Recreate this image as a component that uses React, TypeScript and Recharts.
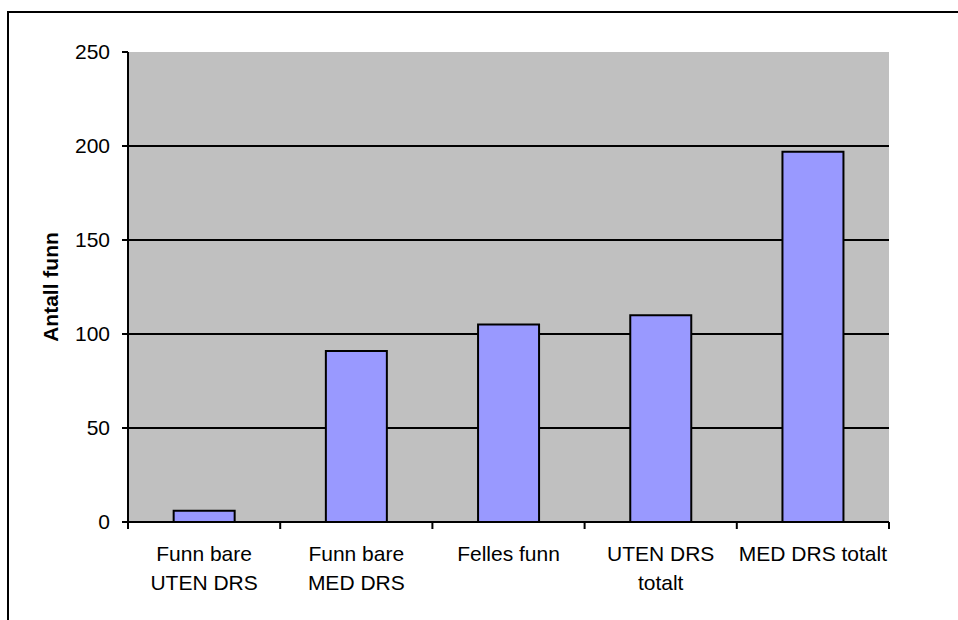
import React from "react";
import {
  BarChart,
  Bar,
  XAxis,
  YAxis,
  CartesianGrid,
} from "recharts";

const categories = [
  "Funn bare\nUTEN DRS",
  "Funn bare\nMED DRS",
  "Felles funn",
  "UTEN DRS\ntotalt",
  "MED DRS totalt",
];
const values = [6, 91, 105, 110, 197];
const yTicks = [0, 50, 100, 150, 200, 250];
const gridValues = [50, 100, 150, 200];

const data = categories.map((name, i) => ({ name, value: values[i] }));

const W = 958;
const H = 620;
const MARGIN = { top: 52, right: 69, bottom: 28, left: 0 };
const Y_AXIS_W = 128;
const FONT = "'Liberation Sans', Arial, sans-serif";

// category label, plus the tick marks that sit on the band edges
function CategoryTick(props: any) {
  const { x, y, payload, index } = props;
  const fallback = (W - MARGIN.right - Y_AXIS_W) / categories.length / 2;
  const half = payload && payload.offset ? payload.offset : fallback;
  const lines = String(payload.value).split("\n");
  return (
    <g>
      <line x1={x - half} x2={x - half} y1={y} y2={y + 7} stroke="#000" strokeWidth={2} />
      {index === categories.length - 1 && (
        <line x1={x + half} x2={x + half} y1={y} y2={y + 7} stroke="#000" strokeWidth={2} />
      )}
      <text x={x} y={y + 39} textAnchor="middle" fontSize={21} fill="#000" fontFamily={FONT}>
        {lines.map((l, i) => (
          <tspan key={i} x={x} dy={i === 0 ? 0 : 29}>
            {l}
          </tspan>
        ))}
      </text>
    </g>
  );
}

function YTitle(props: any) {
  const vb = props.viewBox || { x: 0, y: MARGIN.top, height: H - MARGIN.top - 98 };
  const cx = vb.x + 50;
  const cy = vb.y + vb.height / 2;
  return (
    <text
      x={cx}
      y={cy}
      transform={`rotate(-90, ${cx}, ${cy})`}
      textAnchor="middle"
      dominantBaseline="central"
      fontSize={21}
      fontWeight="bold"
      fill="#000"
      fontFamily={FONT}
    >
      Antall funn
    </text>
  );
}

export default function App() {
  return (
    <div style={{ position: "absolute", left: 0, top: 0, width: W, height: H, overflow: "hidden", background: "#fff" }}>
      <div
        style={{
          position: "absolute",
          left: 7,
          top: 11,
          width: 1100,
          height: 800,
          border: "2px solid #000",
        }}
      />
      <BarChart
        width={W}
        height={H}
        data={data}
        margin={MARGIN}
        barCategoryGap="30%"
        style={{ position: "absolute", left: 0, top: 0, fontFamily: FONT }}
      >
        <CartesianGrid
          vertical={false}
          horizontalValues={gridValues}
          fill="#C0C0C0"
          fillOpacity={1}
          stroke="#000"
          strokeWidth={2}
        />
        <XAxis
          dataKey="name"
          height={70}
          interval={0}
          tickSize={0}
          tickMargin={0}
          tickLine={false}
          axisLine={{ stroke: "#000", strokeWidth: 2 }}
          tick={<CategoryTick />}
        />
        <XAxis
          xAxisId="top"
          dataKey="name"
          orientation="top"
          height={0}
          tick={false}
          tickLine={false}
          axisLine={{ stroke: "#808080", strokeWidth: 2 }}
        />
        <YAxis
          width={Y_AXIS_W}
          domain={[0, 250]}
          ticks={yTicks}
          interval={0}
          tickSize={6}
          tickMargin={12}
          tick={{ fill: "#000", fontSize: 21, fontFamily: FONT }}
          tickLine={{ stroke: "#000", strokeWidth: 2 }}
          axisLine={{ stroke: "#000", strokeWidth: 2 }}
          label={<YTitle />}
        />
        <YAxis
          yAxisId="right"
          orientation="right"
          width={0}
          domain={[0, 250]}
          tick={false}
          tickLine={false}
          axisLine={{ stroke: "#808080", strokeWidth: 2 }}
        />
        <Bar
          dataKey="value"
          fill="#9999FF"
          stroke="#000"
          strokeWidth={2}
          isAnimationActive={false}
        />
      </BarChart>
    </div>
  );
}
